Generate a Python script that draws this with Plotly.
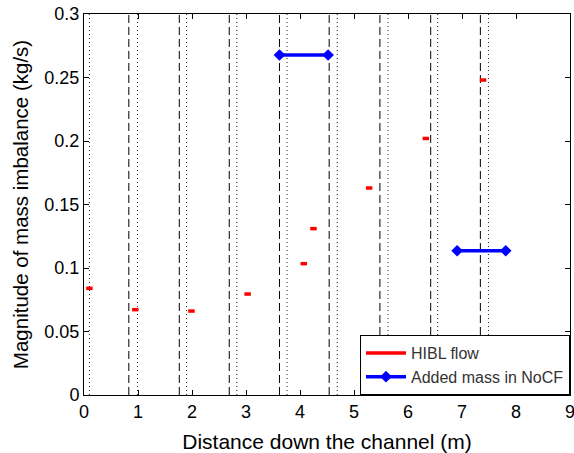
import plotly.graph_objects as go

# Data
hibl_x = [0.10, 0.95, 1.99, 3.03, 4.07, 4.25, 5.28, 6.33, 7.39]
hibl_y = [0.084, 0.0672, 0.0661, 0.0795, 0.1034, 0.131, 0.163, 0.202, 0.248]
hibl_halfwidth = 0.06

added_x_start = [3.62, 6.91]
added_x_end = [4.52, 7.81]
added_y = [0.2677, 0.1136]

dashed_x = [0.83, 1.765, 2.69, 3.62, 4.54, 5.48, 6.42, 7.34]
dotted_x = [0.10, 0.99, 1.90, 2.83, 3.76, 4.69, 5.63, 6.55, 7.49]

x_ticks = list(range(0, 10))
y_ticks = [0, 0.05, 0.1, 0.15, 0.2, 0.25, 0.3]
y_tick_labels = ["0", "0.05", "0.1", "0.15", "0.2", "0.25", "0.3"]

fig = go.Figure()

# vertical reference lines
for xv in dashed_x:
    fig.add_trace(go.Scatter(x=[xv, xv], y=[0, 0.3], mode="lines",
                             line=dict(color="black", width=1, dash="8px,4px"),
                             showlegend=False, hoverinfo="skip"))
for xv in dotted_x:
    fig.add_trace(go.Scatter(x=[xv, xv], y=[0, 0.3], mode="lines",
                             line=dict(color="#222222", width=1, dash="1px,3px"),
                             showlegend=False, hoverinfo="skip"))

# HIBL flow segments
sx, sy = [], []
for xc, yc in zip(hibl_x, hibl_y):
    sx += [xc - hibl_halfwidth, xc + hibl_halfwidth, None]
    sy += [yc, yc, None]
fig.add_trace(go.Scatter(x=sx, y=sy, mode="lines", name="HIBL flow",
                         line=dict(color="red", width=3.5)))

# Added mass segments
ax, ay = [], []
for x0, x1, yv in zip(added_x_start, added_x_end, added_y):
    ax += [x0, x1, None]
    ay += [yv, yv, None]
fig.add_trace(go.Scatter(x=ax, y=ay, mode="lines+markers", name="Added mass in NoCF",
                         line=dict(color="blue", width=3.5),
                         marker=dict(symbol="diamond", size=9, color="blue")))

axis_common = dict(showline=True, linecolor="black", linewidth=1, mirror="ticks",
                   ticks="inside", ticklen=5, tickcolor="black", showgrid=False,
                   zeroline=False, ticklabeloverflow="allow", automargin=False,
                   tickfont=dict(family="Liberation Sans, Arial", size=18, color="black"))

fig.update_layout(
    width=574, height=453,
    margin=dict(l=84, r=4, t=14, b=58, autoexpand=False),
    plot_bgcolor="white", paper_bgcolor="white",
    font=dict(family="Liberation Sans, Arial", color="black"),
    xaxis=dict(range=[0, 9], tickvals=x_ticks, **axis_common,
               title=dict(text="Distance down the channel (m)", font=dict(size=21), standoff=13)),
    yaxis=dict(range=[0, 0.3], tickvals=y_ticks, ticktext=y_tick_labels, **axis_common,
               title=dict(text="Magnitude of mass imbalance (kg/s)", font=dict(size=20.5), standoff=10)),
    legend=dict(x=1, y=0, xanchor="right", yanchor="bottom",
                bordercolor="black", borderwidth=1, bgcolor="white",
                font=dict(size=16, color="#333333"), tracegroupgap=0,
                itemwidth=40),
)

fig.write_html("out.html")
